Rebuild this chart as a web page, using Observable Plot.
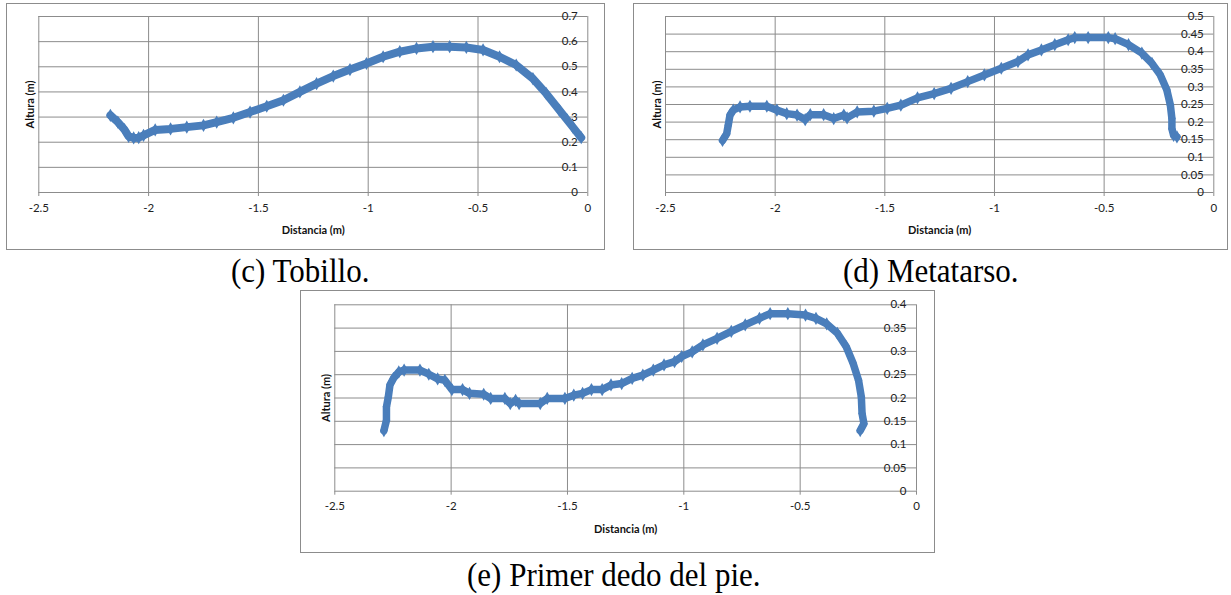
<!DOCTYPE html>
<html>
<head>
<meta charset="utf-8">
<script src="https://cdn.jsdelivr.net/npm/d3@7"></script>
<script src="https://cdn.jsdelivr.net/npm/@observablehq/plot@0.6"></script>
<style>
  html, body { margin: 0; padding: 0; background: #ffffff; }
  body { width: 1231px; height: 595px; position: relative; overflow: hidden; }
  .panel { position: absolute; border: 1px solid #8c8c8c; background: #fff; }
  .panel svg { display: block; overflow: visible; }
  .cap { position: absolute; font-family: "Liberation Serif", "Times New Roman", serif; font-size: 31px; line-height: 31px; color: #000; white-space: nowrap; transform: scaleY(1.08); transform-origin: 0 26px; }
</style>
</head>
<body>
<div id="pc" class="panel" style="left:6px;top:3px;width:597px;height:245px;"></div>
<div id="pd" class="panel" style="left:633px;top:3px;width:593px;height:245px;"></div>
<div id="pe" class="panel" style="left:300px;top:290px;width:633px;height:261px;"></div>
<div class="cap" id="capc" style="left:231px;top:256px;"></div>
<div class="cap" id="capd" style="left:843px;top:256px;"></div>
<div class="cap" id="cape" style="left:467px;top:560px;"></div>
<script>
// ---- Tick labels ----
const xTicks = [-2.5, -2, -1.5, -1, -0.5, 0];
const yTicksC = [0, 0.1, 0.2, 0.3, 0.4, 0.5, 0.6, 0.7];
const yTicksD = [0, 0.05, 0.1, 0.15, 0.2, 0.25, 0.3, 0.35, 0.4, 0.45, 0.5];
const yTicksE = [0, 0.05, 0.1, 0.15, 0.2, 0.25, 0.3, 0.35, 0.4];

// ---- Titles ----
const xLabel = "Distancia (m)";
const yLabel = "Altura (m)";
const captions = ["(c) Tobillo.", "(d) Metatarso.", "(e) Primer dedo del pie."];

// ---- (c) Tobillo ----
const tobilloX = [-2.174, -2.14, -2.11, -2.091, -2.068, -2.045, -2.023, -1.97, -1.90, -1.826, -1.75, -1.69, -1.614, -1.538, -1.462, -1.386, -1.311, -1.235, -1.159, -1.083, -1.008, -0.932, -0.856, -0.78, -0.705, -0.629, -0.553, -0.477, -0.402, -0.326, -0.25, -0.189, -0.129, -0.068, -0.03];
const tobilloY = [0.307, 0.28, 0.25, 0.223, 0.217, 0.218, 0.227, 0.249, 0.253, 0.26, 0.267, 0.28, 0.297, 0.32, 0.343, 0.367, 0.40, 0.433, 0.463, 0.489, 0.513, 0.54, 0.56, 0.573, 0.58, 0.58, 0.577, 0.567, 0.54, 0.507, 0.453, 0.393, 0.327, 0.26, 0.218];

// ---- (d) Metatarso ----
const metatarsoX = [-2.24, -2.221, -2.214, -2.206, -2.191, -2.16, -2.115, -2.038, -1.992, -1.947, -1.90, -1.863, -1.84, -1.779, -1.733, -1.687, -1.672, -1.626, -1.55, -1.489, -1.427, -1.351, -1.275, -1.198, -1.122, -1.046, -0.969, -0.893, -0.847, -0.786, -0.725, -0.664, -0.634, -0.573, -0.481, -0.45, -0.389, -0.328, -0.282, -0.244, -0.214, -0.198, -0.191, -0.191, -0.183, -0.168];
const metatarsoY = [0.148, 0.167, 0.191, 0.22, 0.234, 0.243, 0.245, 0.245, 0.234, 0.224, 0.22, 0.207, 0.221, 0.221, 0.21, 0.22, 0.212, 0.229, 0.231, 0.239, 0.248, 0.269, 0.281, 0.296, 0.315, 0.334, 0.353, 0.372, 0.391, 0.405, 0.42, 0.434, 0.44, 0.44, 0.44, 0.437, 0.42, 0.396, 0.367, 0.334, 0.291, 0.248, 0.21, 0.181, 0.162, 0.158];

// ---- (e) Primer dedo del pie ----
const dedoX = [-2.289, -2.278, -2.278, -2.27, -2.263, -2.248, -2.225, -2.202, -2.134, -2.096, -2.058, -2.027, -1.997, -1.951, -1.921, -1.86, -1.83, -1.769, -1.746, -1.723, -1.708, -1.617, -1.587, -1.511, -1.473, -1.435, -1.397, -1.351, -1.313, -1.267, -1.222, -1.176, -1.131, -1.085, -1.04, -1.009, -0.964, -0.918, -0.857, -0.796, -0.736, -0.675, -0.629, -0.553, -0.477, -0.432, -0.386, -0.34, -0.302, -0.272, -0.249, -0.237, -0.234, -0.226, -0.242];
const dedoY = [0.13, 0.152, 0.181, 0.202, 0.228, 0.242, 0.256, 0.26, 0.26, 0.251, 0.241, 0.238, 0.218, 0.218, 0.21, 0.208, 0.199, 0.199, 0.188, 0.195, 0.188, 0.188, 0.199, 0.199, 0.206, 0.21, 0.218, 0.218, 0.228, 0.231, 0.242, 0.249, 0.26, 0.271, 0.278, 0.289, 0.299, 0.314, 0.328, 0.343, 0.357, 0.371, 0.381, 0.381, 0.378, 0.371, 0.359, 0.339, 0.31, 0.274, 0.238, 0.202, 0.167, 0.145, 0.13];

const blue = "#4a7ebb";
const gridColor = "#8c8c8c";
const fmt = d => String(d);

function panel(xs, ys, yTicks, yMax, w, h, m, sw) {
  const data = xs.map((x, i) => ({x, y: ys[i]}));
  return Plot.plot({
    width: w, height: h,
    marginLeft: m[0], marginRight: m[1], marginTop: m[2], marginBottom: m[3],
    style: {fontFamily: "Lato, 'Open Sans', sans-serif", fontSize: "11.5px", background: "transparent", overflow: "visible"},
    x: {domain: [-2.5, 0]},
    y: {domain: [0, yMax]},
    marks: [
      Plot.gridX({ticks: xTicks, stroke: gridColor, strokeOpacity: 1}),
      Plot.gridY({ticks: yTicks, stroke: gridColor, strokeOpacity: 1}),
      Plot.axisX({ticks: xTicks, tickSize: 4, tickPadding: 7, tickFormat: fmt, stroke: gridColor, fill: "#222", fontSize: 11.5, label: null}),
      Plot.axisX({ticks: [], label: xLabel, labelArrow: "none", labelAnchor: "center", labelOffset: m[4], fontWeight: "bold", fontSize: 11, fill: "#111"}),
      Plot.axisY({anchor: "right", ticks: yTicks, tickSize: 0, tickPadding: 0, textAnchor: "end", dx: -10, tickFormat: fmt, fill: "#222", fontSize: 11.5, label: null}),
      Plot.axisY({anchor: "left", ticks: [], label: yLabel, labelArrow: "none", labelAnchor: "center", labelOffset: m[5], fontWeight: "bold", fontSize: 11, fill: "#111"}),
      Plot.line(data, {x: "x", y: "y", stroke: blue, strokeWidth: sw, strokeLinejoin: "round", strokeLinecap: "round"}),
      Plot.dot(data, {x: "x", y: "y", symbol: "diamond", r: 4, fill: blue, stroke: "none"})
    ]
  });
}

document.getElementById("pc").append(panel(tobilloX, tobilloY, yTicksC, 0.7, 597, 245, [31.3, 16.7, 12, 57, 41, 12.5], 8));
document.getElementById("pd").append(panel(metatarsoX, metatarsoY, yTicksD, 0.5, 593, 245, [31, 13.7, 12, 57, 41, 12.5], 7.5));
document.getElementById("pe").append(panel(dedoX, dedoY, yTicksE, 0.4, 633, 261, [33.3, 18, 13.3, 61.3, 42, 12.5], 7.5));
document.getElementById("capc").textContent = captions[0];
document.getElementById("capd").textContent = captions[1];
document.getElementById("cape").textContent = captions[2];
</script>
</body>
</html>
